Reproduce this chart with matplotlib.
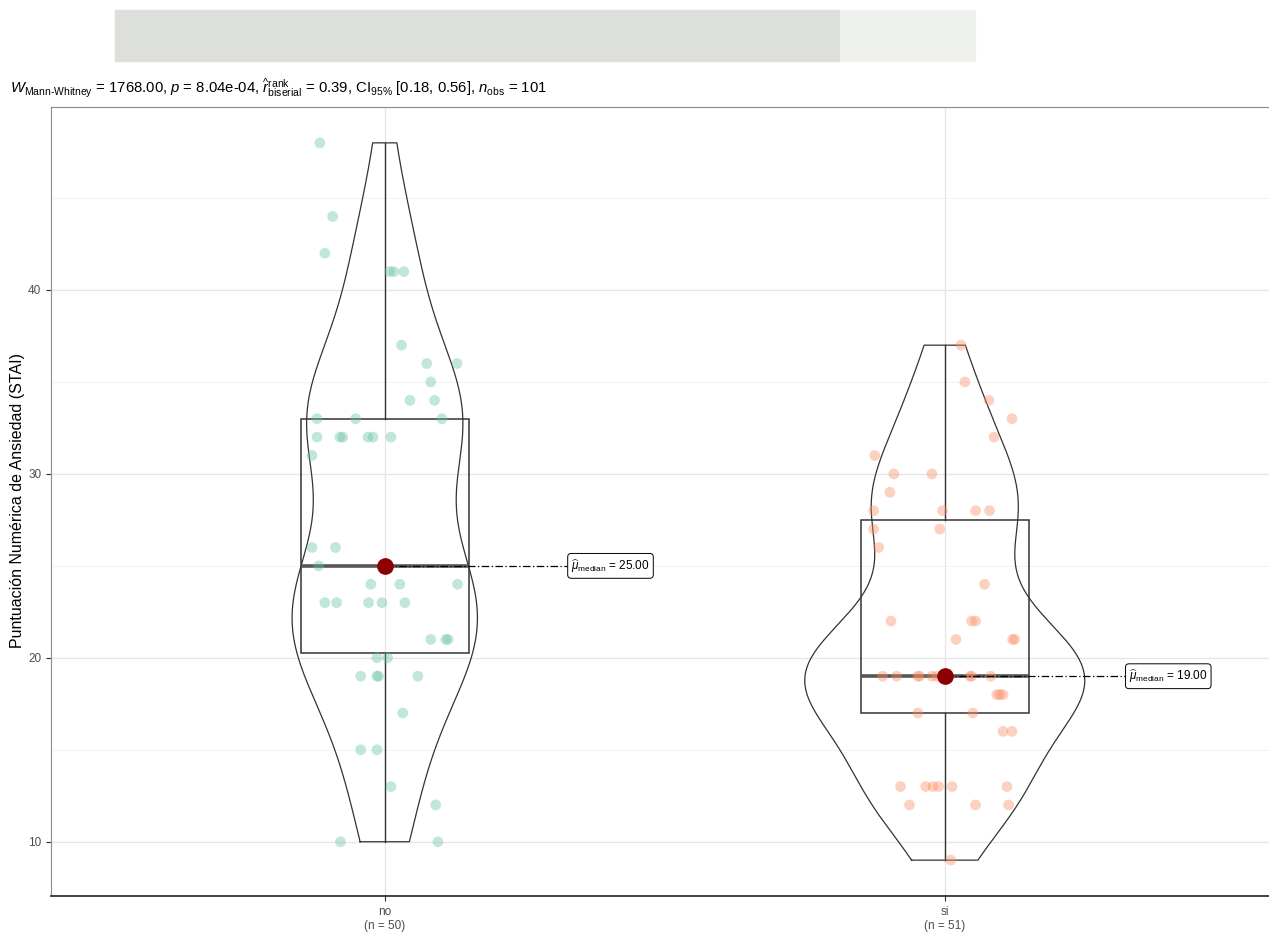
import numpy as np
import matplotlib.pyplot as plt
from matplotlib.patches import Rectangle

plt.rcParams['font.family'] = ['Liberation Sans', 'DejaVu Sans']
plt.rcParams['mathtext.fontset'] = 'custom'
plt.rcParams['mathtext.rm'] = 'Liberation Sans'
plt.rcParams['mathtext.it'] = 'Liberation Sans:italic'
plt.rcParams['mathtext.bf'] = 'Liberation Sans:bold'

# ------------------------------------------------------------------ #
# Data                                        #
# ------------------------------------------------------------------ #
groups = ['no', 'si']
group_n = [50, 51]
group_colors = ['#66C2A5', '#FC8D62']

no_scores = [48, 44, 42, 41, 41, 41, 37, 36, 36, 35, 34, 34, 33, 33, 33,
             32, 32, 32, 32, 32, 32, 31, 26, 26, 25, 25, 24, 24, 24,
             23, 23, 23, 23, 23, 21, 21, 21, 20, 20, 19, 19, 19, 19,
             17, 15, 15, 13, 12, 10, 10]
no_jitter = [-0.116, -0.093, -0.107, 0.009, 0.016, 0.034, 0.030, 0.075, 0.129,
             0.082, 0.045, 0.089, -0.121, -0.052, 0.102,
             -0.121, -0.080, -0.075, -0.030, -0.021, 0.011, -0.130,
             -0.130, -0.088, -0.118, 0.0, -0.025, 0.027, 0.130,
             -0.107, -0.086, -0.029, -0.005, 0.036, 0.082, 0.109, 0.113,
             -0.014, 0.005, -0.043, -0.014, -0.011, 0.059,
             0.032, -0.043, -0.014, 0.011, 0.091, -0.079, 0.095]

si_scores = [37, 35, 34, 33, 32, 31, 30, 30, 29, 28, 28, 28, 28, 27, 27,
             26, 24, 22, 22, 22, 21, 21, 21,
             19, 19, 19, 19, 19, 19, 19, 19, 19, 19, 19,
             18, 18, 18, 17, 17, 16, 16, 13, 13, 13, 13, 13, 13,
             12, 12, 12, 9]
si_jitter = [0.029, 0.036, 0.079, 0.120, 0.088, -0.125, -0.091, -0.023, -0.098,
             -0.127, -0.004, 0.055, 0.080, -0.127, -0.009,
             -0.118, 0.071, -0.096, 0.048, 0.055, 0.020, 0.121, 0.125,
             -0.111, -0.086, -0.048, -0.045, -0.023, -0.014, 0.0, 0.005,
             0.045, 0.048, 0.082,
             0.093, 0.098, 0.104, -0.048, 0.050, 0.104, 0.120,
             -0.079, -0.034, -0.021, -0.011, 0.013, 0.111,
             -0.063, 0.055, 0.114, 0.011]

subtitle = (r'$\mathit{W}_{\mathrm{Mann\text{-}Whitney}}$ = 1768.00, '
            r'$\mathit{p}$ = 8.04e-04, '
            r'$\widehat{\mathit{r}}_{\mathrm{biserial}}^{\mathrm{rank}}$ = 0.39, '
            r'CI$_{\mathrm{95\%}}$ [0.18, 0.56], '
            r'$\mathit{n}_{\mathrm{obs}}$ = 101')
ylabel = 'Puntuación Numérica de Ansiedad (STAI)'


def kde(values, grid):
    """Gaussian KDE with R's bw.nrd0 bandwidth."""
    v = np.asarray(values, dtype=float)
    n = len(v)
    iqr = np.subtract(*np.percentile(v, [75, 25]))
    bw = 0.9 * min(v.std(ddof=1), iqr / 1.34) * n ** -0.2
    z = (grid[:, None] - v[None, :]) / bw
    return np.exp(-0.5 * z ** 2).sum(axis=1) / (n * bw * np.sqrt(2 * np.pi))


# ------------------------------------------------------------------ #
# Figure                                                               #
# ------------------------------------------------------------------ #
W, H = 1269, 933
fig = plt.figure(figsize=(W / 100, H / 100), dpi=100)

# scanned watermark band at the top
fig.patches.append(Rectangle((115 / W, 1 - 61 / H), (840 - 115) / W, 51 / H,
                             transform=fig.transFigure, color='#dde0da', zorder=0))
fig.patches.append(Rectangle((840 / W, 1 - 61 / H), (975 - 840) / W, 51 / H,
                             transform=fig.transFigure, color='#eef0ec', zorder=0))

fig.text(10 / W, 1 - 88 / H, subtitle, fontsize=10.7, va='center', ha='left')
fig.text(18 / W, 1 - 500 / H, ylabel, fontsize=11.5, rotation=90,
         va='center', ha='center')

ax = fig.add_axes([51 / W, 1 - 896 / H, (W - 51) / W, (896 - 107) / H])
ax.set_xlim(0.404, 0.404 + (W - 51) / 560)
ax.set_ylim(7.05, 49.95)

ax.set_yticks([10, 20, 30, 40])
ax.set_yticks([15, 25, 35, 45], minor=True)
ax.set_xticks([1, 2])
ax.set_xticklabels([f'{g}\n(n = {n})' for g, n in zip(groups, group_n)])
ax.grid(True, which='major', color='#e6e6e6', lw=0.9)
ax.grid(True, which='minor', axis='y', color='#f0f0f0', lw=0.6)
ax.set_axisbelow(True)
ax.tick_params(axis='both', which='major', labelsize=8.5, labelcolor='#4d4d4d',
               color='#333333', length=3.5)
ax.tick_params(axis='y', which='minor', length=0)

for side in ['left', 'top']:
    ax.spines[side].set_color('#8c8c8c')
ax.spines['right'].set_visible(False)
ax.spines['bottom'].set_color('#222222')
ax.spines['bottom'].set_linewidth(1.2)

all_scores = [no_scores, si_scores]
all_jitter = [no_jitter, si_jitter]

# violins (scale = "area", width 0.5)
grids, dens = [], []
for scores in all_scores:
    g = np.linspace(min(scores), max(scores), 512)
    grids.append(g)
    dens.append(kde(scores, g))
dmax = max(d.max() for d in dens)
for i, (g, d) in enumerate(zip(grids, dens)):
    xc = i + 1
    hw = d / dmax * 0.25
    xs = np.concatenate([xc - hw, (xc + hw)[::-1], [xc - hw[0]]])
    ys = np.concatenate([g, g[::-1], [g[0]]])
    ax.plot(xs, ys, color='#333333', lw=0.9, zorder=2)

# boxplots (width 0.3, whiskers to min/max)
for i, scores in enumerate(all_scores):
    xc = i + 1
    q1, med, q3 = np.percentile(scores, [25, 50, 75])
    ax.add_patch(Rectangle((xc - 0.15, q1), 0.3, q3 - q1, fill=False,
                           edgecolor='#333333', lw=1.1, zorder=3))
    ax.plot([xc, xc], [q3, max(scores)], color='#333333', lw=1.0, zorder=3)
    ax.plot([xc, xc], [min(scores), q1], color='#333333', lw=1.0, zorder=3)
    ax.plot([xc - 0.15, xc + 0.15], [med, med], color='#555555', lw=2.6,
            solid_capstyle='butt', zorder=3)

# jittered points
for i, (scores, jit) in enumerate(zip(all_scores, all_jitter)):
    ax.scatter(np.array(jit) + i + 1, scores, s=60, color=group_colors[i],
               alpha=0.4, edgecolors='none', zorder=4)

# median markers and labels
label_x = [1.329, 2.325]
for i, scores in enumerate(all_scores):
    xc = i + 1
    med = np.median(scores)
    ax.plot([xc, label_x[i]], [med, med], color='black', lw=0.9,
            dashes=(6, 2, 1, 2), zorder=5)
    ax.plot(xc, med, 'o', color='#8B0000', ms=11, zorder=6)
    ax.text(label_x[i] + 0.004, med,
            r'$\widehat{\mu}_{\mathrm{median}}$' + f' = {med:.2f}',
            fontsize=8.5, va='center', ha='left', zorder=7,
            bbox=dict(boxstyle='round,pad=0.3,rounding_size=0.3',
                      fc='white', ec='black', lw=0.7))

fig.savefig('out.png', dpi=100)
